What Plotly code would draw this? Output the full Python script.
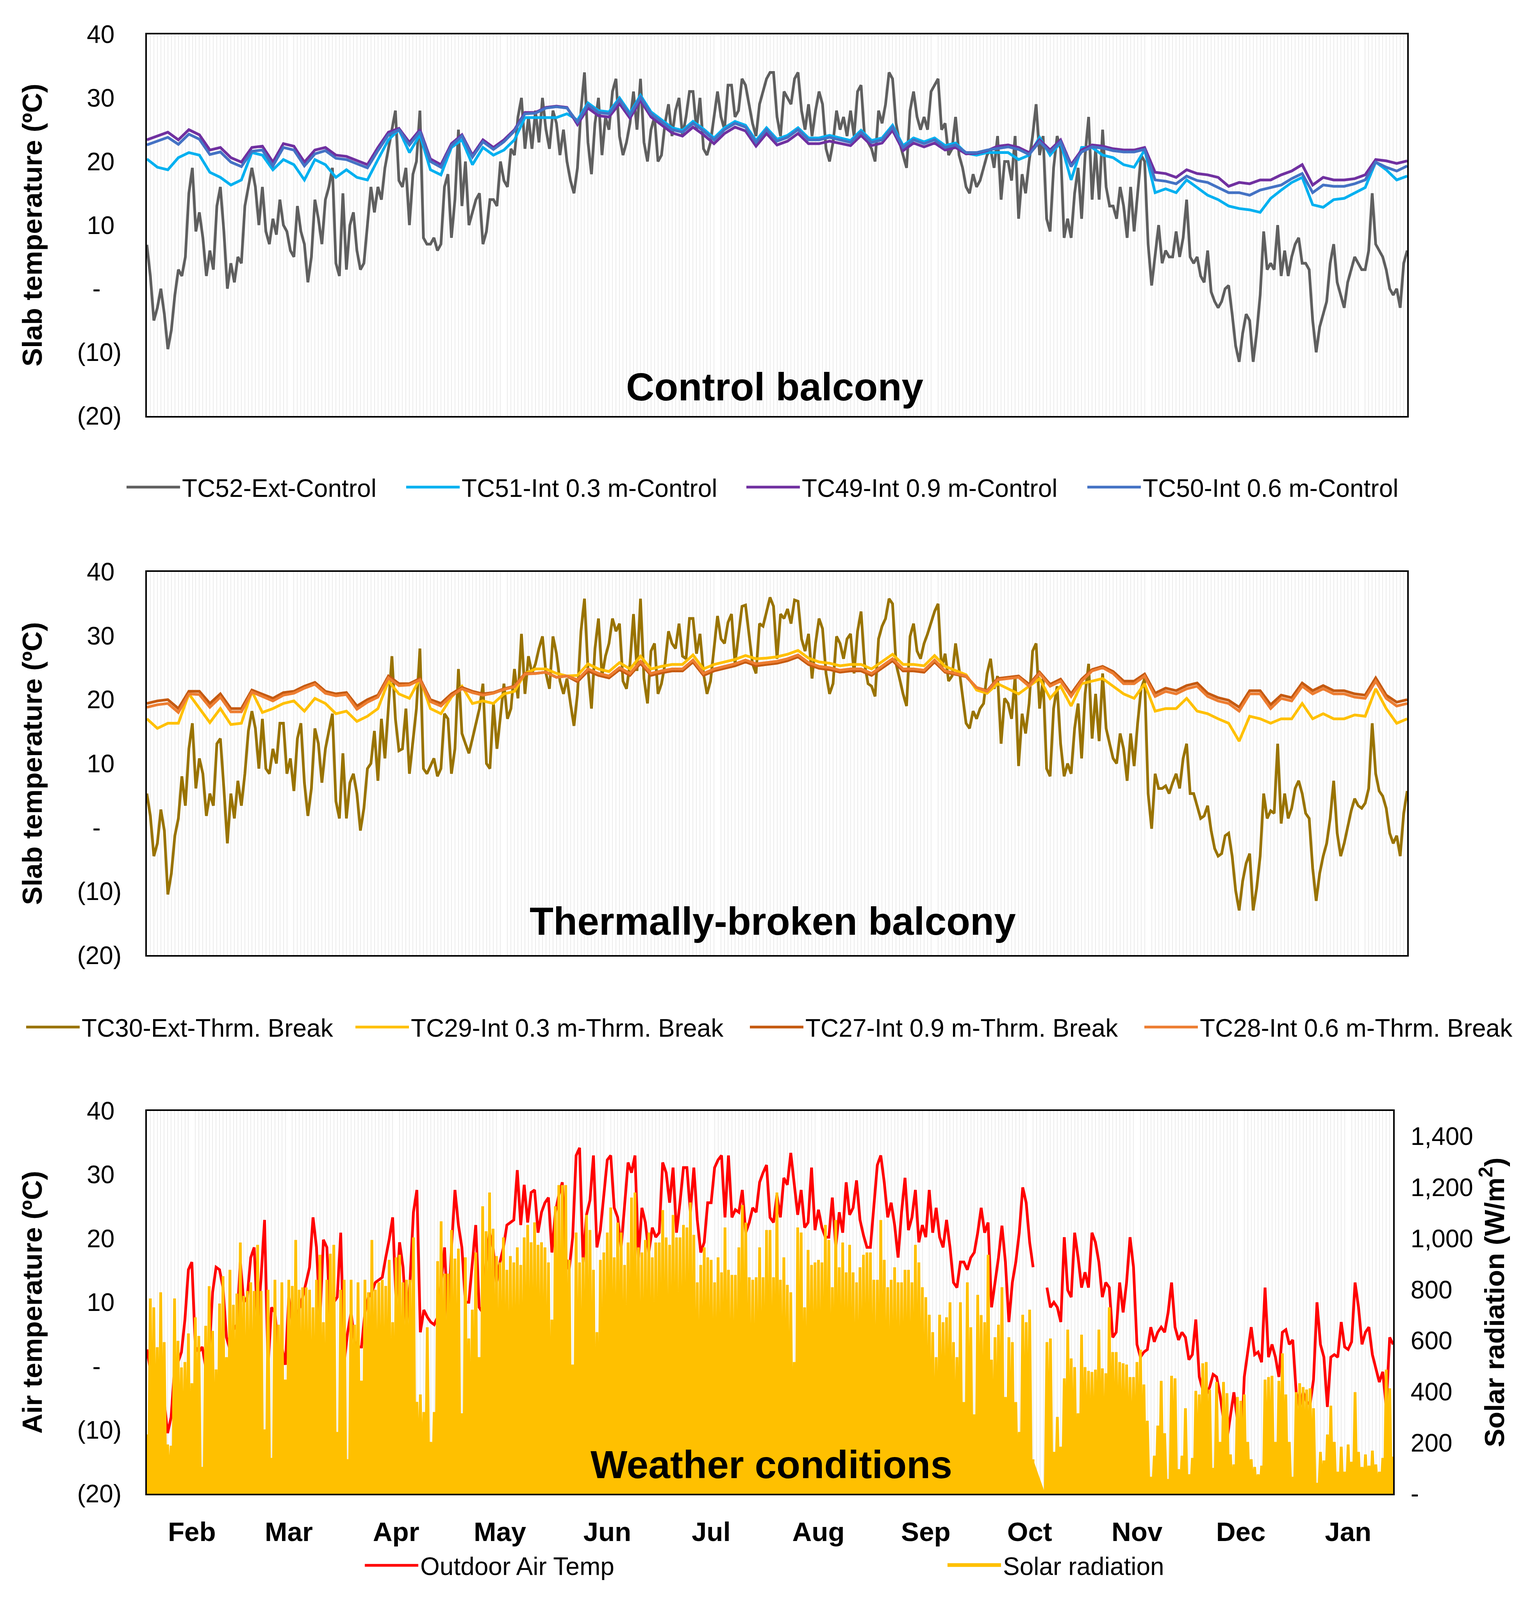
import pandas as pd
import plotly.graph_objects as go

# The page is shown in a 3943 x 4096 viewport (body margin 8 px), so the figure
# is sized to fill it; positions are measured on the 3943 x 4757 reference.
REF_W, REF_H = 3943, 4757
VIEW_H = 4096
W, H = 3935, 4088
SY = VIEW_H / REF_H
FONT = "Liberation Sans, Arial, sans-serif"

# ---------------- data ----------------
start_date = "2017-01-19"
end_date = "2018-01-14"
day_dates = pd.date_range(start_date, periods=361, freq="D")
grid3_dates = pd.date_range(start_date, periods=121, freq="3D")

tc52_ext_control = [
    6.9, 2, -5, -3, 0, -4, -9.5, -6.5, -1, 3,
    2, 5, 15, 19, 9, 12, 8, 2, 6, 3,
    13, 16, 9, 0, 4, 1, 5, 4, 13, 16,
    19, 16, 10, 16, 9, 7, 11, 8.5, 14, 10,
    9, 6, 5, 13, 9, 7, 1, 5, 14, 11,
    7, 14, 16, 19, 4, 2, 15, 3, 10, 12,
    6, 3, 4, 10, 16, 12, 16, 14, 19, 22,
    25, 28, 17, 16, 19, 10, 18, 20, 28, 8,
    7, 7, 8, 6, 7, 16, 18, 8, 14, 25,
    13, 20, 10, 12, 14, 15, 7, 9, 14, 14,
    13, 20, 17, 16, 22, 21, 27, 30, 22, 27,
    22, 28, 23, 30, 25, 22, 28, 26, 21, 25,
    20,
    17, 15, 19, 28, 34, 23, 18, 26, 30, 21,
    27, 25, 31, 33, 24, 21, 23, 26, 31, 25,
    33, 23, 20, 25, 27, 20, 21, 26, 29, 24,
    28, 30, 24, 27, 31, 31, 25, 30, 22, 21,
    23, 27, 31, 27, 25, 32, 32, 27, 28, 33,
    32, 29, 26, 24, 29, 31, 33, 34, 34, 27,
    24, 31, 30, 29, 33, 34, 28, 25, 29, 24,
    28, 31, 29, 22, 20, 23, 28, 25, 27, 24,
    28, 24, 31, 32, 24, 23, 22, 20, 28, 26,
    29, 34, 33, 26, 23, 21, 19, 28, 31, 27,
    25, 27, 25, 31, 32, 33, 25, 26, 21, 22,
    27, 21, 19, 16, 15, 18, 16, 17, 19, 21,
    22, 19, 24, 14, 20, 20, 17, 24, 11, 18,
    15, 20, 24, 29, 21, 24, 11, 9, 19, 24,
    22, 8, 11, 8, 15, 19, 11, 21, 27, 14,
    22, 14, 25, 16, 13, 13, 11, 16, 13, 8,
    16, 9, 15, 21, 20, 7, 0.5, 5, 10, 4,
    6, 5, 5, 9, 5, 8, 14, 5, 4, 5,
    2, 1, 6, -0.5, -2, -3, -2, 0, 0.5, -4,
    -9, -11.5, -7, -4, -5, -11.5, -7, -1, 9, 3,
    4, 3, 10, 2, 6, 2, 5, 7, 8, 4,
    4, 3, -5, -10, -6, -4, -2, 4, 7, 1,
    -1, -3, 1, 3, 5, 4, 3, 3, 6, 15,
    7, 6, 5, 3, 0, -1, 0, -3, 4, 6,
]

tc51_int03_control = [
    20.4, 19.1, 18.7, 20.6, 21.4, 21.0, 18.3, 17.5, 16.3, 17.1,
    21.4, 21.0, 18.7, 20.3, 19.5, 17.1, 20.3, 19.5, 17.5, 18.7,
    17.5, 17.1, 20.3, 23.4, 25.0, 21.4, 24.2, 18.7, 17.9, 22.2,
    23.4, 19.5, 22.2, 21.0, 21.8, 23.4, 26.9, 26.9, 26.9, 26.9,
    27.5,
    26.5, 29.2, 28.0, 27.8, 30.0, 27.6, 30.4, 27.8, 26.5, 25.3,
    24.9, 26.3, 25.1, 23.7, 25.3, 26.3, 25.7, 23.3, 25.3, 23.5,
    24.1, 25.3, 23.7, 23.7, 24.1, 23.7, 23.3, 24.9, 23.3, 23.7,
    25.7, 22.5, 23.7, 23.1, 23.7, 22.5, 22.9, 21.3, 21.0, 21.4,
    21.4, 21.4, 20.3, 21.0, 23.8, 21.0, 23.0, 17.1, 22.2, 22.2,
    21.0, 20.6, 19.5, 19.1, 21.8, 15.1, 15.7, 15.1, 17.1, 15.9,
    14.7, 14.0, 13.0, 12.6, 12.4, 12.0, 14.2, 15.5, 16.7, 17.5,
    13.2, 12.8, 14.0, 14.2, 15.1, 15.9, 19.9, 18.7, 17.1, 17.7,
]

tc49_int09_control = [
    23.4, 24.0, 24.6, 23.4, 25.0, 24.2, 21.8, 22.2, 20.6, 19.9,
    22.2, 22.4, 19.9, 22.8, 22.4, 19.9, 21.8, 22.2, 21.0, 20.8,
    20.1, 19.5, 22.2, 24.6, 25.2, 23.0, 25.0, 20.4, 19.5, 22.8,
    24.2, 21.0, 23.4, 22.2, 23.4, 25.0, 27.7, 27.7, 28.5, 28.7,
    28.5,
    25.8, 28.4, 27.2, 27.0, 29.1, 26.8, 29.6, 27.0, 25.7, 24.5,
    24.0, 25.4, 24.2, 22.8, 24.4, 25.4, 24.8, 22.4, 24.4, 22.6,
    23.2, 24.4, 22.8, 22.8, 23.2, 22.9, 22.5, 24.1, 22.5, 22.9,
    24.9, 21.7, 22.9, 22.3, 22.9, 21.8, 22.2, 21.2, 21.3, 21.7,
    22.4, 22.6, 22.2, 21.4, 23.4, 21.8, 23.4, 19.5, 21.8, 22.6,
    22.4, 22.0, 21.8, 21.8, 22.2, 18.3, 18.1, 17.5, 18.7, 18.1,
    17.9, 17.5, 16.1, 16.7, 16.5, 17.1, 17.1, 17.9, 18.5, 19.5,
    16.3, 17.5, 17.1, 17.1, 17.3, 17.9, 20.3, 20.1, 19.7, 20.1,
]

tc50_int06_control = [
    22.6, 23.2, 23.8, 22.7, 24.3, 23.5, 21.1, 21.5, 19.9, 19.2,
    21.6, 21.8, 19.3, 22.2, 21.8, 19.3, 21.2, 21.7, 20.5, 20.3,
    19.6, 19.0, 21.7, 24.2, 25.0, 22.6, 24.7, 20.0, 19.1, 22.5,
    24.0, 20.7, 23.1, 21.9, 23.1, 24.8, 27.5, 27.6, 28.4, 28.6,
    28.4,
    26.2, 28.9, 27.7, 27.5, 29.7, 27.3, 30.1, 27.5, 26.2, 25.0,
    24.6, 26.0, 24.8, 23.4, 25.0, 26.0, 25.4, 23.0, 25.0, 23.2,
    23.8, 25.0, 23.4, 23.4, 23.8, 23.4, 23.0, 24.6, 23.0, 23.4,
    25.4, 22.2, 23.4, 22.8, 23.4, 22.2, 22.6, 21.4, 21.4, 21.8,
    22.1, 22.3, 21.9, 21.1, 23.1, 21.5, 23.1, 19.2, 21.5, 22.3,
    22.1, 21.7, 21.5, 21.5, 21.9, 17.1, 16.9, 16.5, 17.7, 17.0,
    16.7, 15.9, 15.1, 15.1, 14.7, 15.5, 15.9, 16.3, 17.3, 18.1,
    15.1, 16.3, 16.1, 16.1, 16.5, 17.1, 19.9, 19.1, 18.5, 19.3,
]

tc30_ext_break = [
    5.3, 1.8, -4.5, -2.5, 2.8, -0.5, -10.5, -7.2, -1.3, 1.4,
    8.0, 3.4, 12.3, 16.3, 6.1, 10.8, 8.4, 1.8, 5.3, 3.4,
    13.1, 13.9, 6.1, -2.5, 5.3, 1.4, 7.3, 3.4, 8.4, 15.1,
    18.2, 15.5, 9.2, 17.0, 9.2, 8.4, 12.3, 10.0, 16.3, 16.3,
    8.4, 10.8, 5.7, 13.9, 16.3, 7.0, 1.8, 6.1, 15.5, 13.1,
    7.0, 12.3, 15.1, 17.8, 4.1, 1.4, 11.6, 1.4, 7.0, 8.4,
    5.3, -0.5, 3.0, 9.2, 10.0, 15.1, 7.3, 17.0, 10.8, 18.6,
    26.8, 17.0, 12.0, 12.3, 18.6, 8.4, 13.1, 18.6, 28.0, 9.2,
    8.4, 9.6, 10.8, 8.0, 9.2, 17.8, 17.0, 8.4, 12.3, 24.8,
    14.7, 13.1, 11.6, 13.9, 16.3, 18.6, 22.5, 10.0, 9.2, 19.4,
    12.3, 17.8, 22.5, 17.0, 18.6, 24.8, 20.2, 30.3, 20.9, 26.8,
    24.1, 25.6, 28.0, 29.9, 24.1, 21.7, 29.9, 27.2, 22.9, 20.9,
    23.3,
    19.4, 15.9, 20.9, 30.7, 35.8, 24.8, 18.6, 28.0, 32.7, 23.7,
    26.8, 28.8, 32.7, 30.7, 31.9, 22.9, 21.7, 25.6, 33.4, 24.5,
    35.8, 23.3, 19.4, 27.6, 28.8, 20.9, 22.5, 25.6, 30.7, 28.8,
    28.0, 31.9, 26.8, 26.4, 32.7, 32.7, 27.2, 30.3, 24.1, 20.9,
    22.9, 28.0, 33.1, 29.5, 28.8, 32.1, 33.4, 25.6, 30.3, 34.6,
    34.8, 30.3, 25.6, 24.1, 31.9, 31.5, 33.8, 36.0, 34.6, 26.4,
    33.4, 32.7, 34.2, 31.9, 35.6, 35.4, 29.5, 27.6, 30.3, 23.3,
    28.8, 32.7, 31.1, 24.1, 20.9, 22.5, 29.9, 28.8, 26.4, 29.5,
    30.3, 24.1, 30.7, 33.8, 25.6, 22.5, 22.1, 20.5, 29.5, 31.5,
    32.7, 35.8, 35.0, 25.6, 23.3, 20.9, 19.0, 29.9, 31.9, 27.6,
    26.4, 28.8, 30.3, 31.9, 33.8, 35.0, 24.8, 27.2, 22.9, 23.7,
    28.8, 24.8, 20.9, 16.3, 15.5, 18.2, 17.0, 18.6, 19.4, 24.1,
    26.4, 21.7, 23.7, 13.1, 20.2, 19.4, 17.0, 23.7, 9.6, 17.8,
    14.7, 19.4, 27.6, 28.8, 18.6, 23.3, 9.2, 8.0, 18.6, 22.1,
    13.1, 8.0, 10.0, 8.4, 15.5, 19.4, 10.8, 20.9, 25.6, 13.9,
    20.9, 13.5, 24.1, 15.5, 13.1, 10.8, 10.0, 14.7, 12.3, 7.3,
    14.7, 9.6, 16.3, 21.7, 23.3, 5.3, -0.2, 8.4, 6.1, 6.1,
    6.5, 5.3, 7.0, 8.4, 6.1, 10.8, 13.1, 5.3, 5.3, 3.4,
    1.4, 1.8, 3.4, -0.5, -3.3, -4.5, -4.1, -1.3, -0.9, -4.5,
    -9.9, -13.0, -8.4, -5.6, -4.1, -13.0, -9.5, -4.5, 5.3, 1.4,
    2.6, 2.2, 13.1, 0.6, 5.3, 1.4, 3.0, 6.1, 7.3, 5.3,
    2.2, 1.4, -6.4, -11.5, -7.2, -4.5, -2.5, 1.4, 7.3, -0.9,
    -4.5, -2.5, 0.2, 2.6, 4.5, 3.4, 3.0, 3.8, 6.1, 16.3,
    8.4, 5.7, 4.9, 3.0, -0.9, -2.5, -1.3, -4.5, 2.2, 5.7,
]

tc29_int03_break = [
    17.0, 15.5, 16.3, 16.3, 20.9, 18.6, 16.4, 18.6, 16.1, 16.3,
    21.3, 18.0, 18.6, 19.4, 19.8, 18.2, 20.2, 19.4, 17.8, 18.2,
    16.6, 17.4, 18.6, 22.9, 20.9, 20.2, 23.3, 18.6, 17.8, 20.4,
    22.1, 19.4, 19.8, 19.4, 20.9, 21.3, 24.1, 24.8, 24.8, 24.1,
    23.7,
    23.8, 25.6, 24.8, 24.4, 25.8, 24.8, 26.8, 24.8, 25.2, 25.5,
    25.5, 27.0, 24.8, 25.5, 25.9, 26.3, 26.9, 26.4, 26.5, 26.7,
    27.1, 27.7, 26.5, 25.9, 25.7, 25.3, 25.5, 25.5, 24.8, 25.9,
    27.1, 25.5, 25.5, 25.3, 26.9, 25.2, 24.6, 23.9, 21.5, 21.0,
    22.5, 21.7, 20.9, 22.1, 23.3, 20.2, 22.1, 19.0, 22.5, 22.9,
    23.3, 22.1, 20.9, 20.2, 22.5, 18.2, 18.6, 18.6, 20.2, 18.2,
    17.8, 17.0, 16.3, 13.5, 17.4, 17.0, 16.3, 17.0, 17.0, 19.4,
    17.0, 17.8, 17.0, 17.0, 17.6, 17.4, 21.7, 18.6, 16.3, 17.0,
]

tc27_int09_break = [
    19.4, 19.8, 20.0, 18.6, 21.3, 21.3, 19.4, 20.9, 18.6, 18.6,
    21.5, 20.9, 20.2, 21.1, 21.3, 22.1, 22.7, 21.3, 20.9, 21.1,
    19.0, 20.0, 20.7, 23.7, 22.5, 22.5, 23.3, 20.0, 19.4, 20.9,
    21.9, 21.3, 20.9, 21.1, 21.7, 22.1, 24.1, 24.1, 24.3, 23.5,
    23.7,
    22.8, 24.5, 23.8, 23.4, 24.7, 23.8, 25.7, 23.8, 24.2, 24.5,
    24.5, 25.9, 23.8, 24.5, 24.9, 25.3, 25.9, 25.3, 25.5, 25.7,
    26.1, 26.7, 25.5, 24.9, 24.7, 24.3, 24.5, 24.5, 23.8, 24.9,
    26.1, 24.5, 24.5, 24.3, 25.9, 24.3, 23.9, 23.6, 21.9, 21.4,
    23.3, 23.5, 23.7, 22.4, 24.3, 22.4, 23.2, 20.9, 23.2, 24.7,
    25.2, 24.4, 22.9, 22.9, 24.0, 21.0, 21.8, 21.4, 22.2, 22.6,
    21.0, 20.3, 19.9, 18.8, 21.4, 21.4, 19.2, 20.7, 20.3, 22.6,
    21.4, 22.2, 21.4, 21.4, 20.9, 20.7, 23.4, 20.7, 19.6, 20.0,
]

tc28_int06_break = [
    18.8, 19.2, 19.4, 18.0, 20.9, 20.8, 18.8, 20.4, 18.1, 18.1,
    21.2, 20.5, 19.8, 20.7, 21.0, 21.8, 22.4, 21.0, 20.6, 20.8,
    18.5, 19.6, 20.4, 23.4, 22.2, 22.3, 23.1, 19.7, 19.0, 20.6,
    21.7, 21.1, 20.7, 21.0, 21.6, 22.0, 24.0, 24.1, 24.3, 23.5,
    23.7,
    23.1, 24.8, 24.1, 23.7, 25.0, 24.1, 26.0, 24.1, 24.5, 24.8,
    24.8, 26.2, 24.1, 24.8, 25.2, 25.6, 26.2, 25.6, 25.8, 26.0,
    26.4, 27.0, 25.8, 25.2, 25.0, 24.6, 24.8, 24.8, 24.1, 25.2,
    26.4, 24.8, 24.8, 24.6, 26.2, 24.5, 24.1, 23.7, 21.9, 21.3,
    23.1, 23.3, 23.5, 22.1, 24.1, 22.1, 22.9, 20.5, 22.9, 24.5,
    25.0, 24.1, 22.5, 22.5, 23.7, 20.5, 21.3, 20.9, 21.7, 22.1,
    20.5, 19.8, 19.4, 18.2, 20.9, 20.9, 18.6, 20.2, 19.8, 22.1,
    20.9, 21.7, 20.9, 20.9, 20.4, 20.2, 22.9, 20.2, 19.0, 19.4,
]

outdoor_air_temp = [
    2.6, -0.5, -7.2, -5.6, -8.4, -5.6, -10.5, -8.0, -0.4, 0.6,
    2.2, 7.3, 15.1, 16.3, 3.0, 2.2, 3.0, -0.2, 2.2, 11.6,
    15.5, 15.1, 12.3, 4.5, 2.6, 5.7, 6.5, 16.3, 10.0, 10.8,
    17.0, 18.6, 6.5, 13.9, 22.9, -0.2, 9.2, 8.4, 2.2, 3.0,
    0.2, 10.8, 6.9, 7.7, 8.9, 10.8, 13.1, 15.5, 23.3, 18.6,
    7.3, 19.8, 18.6, 6.9, 10.0, 10.8, 20.9, 0.6, 5.3, 8.4,
    3.8, 3.0, 3.0, 8.4, 10.8, 11.6, 13.1, 13.5, 13.9, 17.0,
    19.8, 23.3, 10.0, 19.4, 15.5, 6.5, 13.1, 24.1, 27.6, 5.3,
    8.8, 7.7, 6.9, 6.5, 7.7, 13.1, 18.6, 6.5, 18.6, 27.6,
    22.1, 18.6, 10.0, 10.0, 16.3, 22.1, 9.2, 8.4, 16.3, 20.9,
    18.6, 13.1, 16.3, 18.6, 22.1, 22.5, 22.9, 30.7, 22.1, 28.4,
    22.5, 27.2, 27.6, 20.9, 24.1, 25.6, 26.4, 17.8, 24.1, 26.8,
    28.8,
    17.0, 15.1, 20.2, 33.0, 34.2, 16.3, 23.7, 26.0, 33.0, 18.6,
    21.3, 27.2, 32.3, 33.0, 24.8, 23.3, 18.6, 25.2, 31.9, 30.3,
    33.0, 17.0, 24.8, 22.5, 17.8, 21.7, 20.2, 20.9, 31.9, 30.3,
    25.6, 31.1, 20.9, 25.6, 31.1, 31.1, 24.1, 31.1, 22.9, 17.8,
    19.4, 25.6, 25.6, 31.1, 32.3, 33.0, 23.3, 33.0, 23.3, 24.5,
    24.1, 27.6, 20.9, 22.5, 24.8, 24.1, 28.8, 30.3, 31.5, 23.3,
    22.5, 26.8, 23.3, 29.5, 28.4, 33.4, 28.4, 23.7, 27.6, 21.7,
    22.5, 31.1, 21.3, 24.5, 21.7, 20.2, 20.2, 26.4, 18.6, 24.1,
    20.9, 28.8, 23.7, 24.8, 29.1, 22.9, 20.5, 18.6, 18.6, 24.8,
    31.5, 33.0, 28.8, 23.3, 25.6, 22.1, 17.0, 24.1, 29.5, 21.3,
    23.3, 27.6, 19.4, 22.1, 20.2, 27.6, 20.9, 24.8, 20.2, 18.6,
    22.9, 18.6, 13.1, 12.3, 16.3, 16.3, 15.1, 17.0, 17.8, 20.9,
    24.8, 20.9, 22.5, 9.2, 13.1, 17.0, 22.0, 16.3, 6.9, 13.1,
    16.3, 20.9, 28.0, 25.6, 19.4, 15.5, None, None, None, 12.3,
    9.2, 10.0, 9.2, 6.9, 20.2, 11.9, 10.8, 20.9, 17.0, 12.3,
    14.7, 12.3, 20.9, 19.4, 16.3, 10.8, 13.1, 12.3, 4.5, 5.3,
    13.1, 8.4, 13.1, 20.2, 15.5, 3.4, 1.4, 2.2, 2.6, 6.1,
    3.8, 5.3, 6.1, 5.3, 8.4, 13.1, 6.1, 4.1, 5.3, 4.5,
    1.0, 1.8, 7.3, -1.7, -3.7, -4.5, -3.3, -1.3, -1.7, -4.5,
    -8.4, -11.5, -7.6, -4.1, -8.4, -14.2, -1.7, 2.6, 6.1, 1.8,
    2.2, 0.6, 12.3, 1.4, 3.4, 1.4, -1.7, 5.3, 5.7, 3.4,
    4.1, -4.1, -6.4, -4.1, -5.6, -6.0, -2.1, 10.0, 3.4, 1.4,
    -6.4, 1.4, 1.8, 1.4, 6.9, 3.0, 2.6, 3.8, 13.1, 9.2,
    3.4, 5.3, 6.1, 1.8, -0.2, -2.5, -0.9, -6.4, 4.5, 3.4,
]

solar_daily_peak = [
    232, 765, 730, 574, 789, 594, 193, 188, 765, 599,
    495, 516, 628, 433, 691, 618, 105, 658, 813, 638,
    487, 745, 852, 535, 877, 740, 784, 984, 775, 794,
    828, 794, 975, 794, 252, 799, 140, 838, 662, 828,
    447, 838, 814, 994, 799, 808, 808, 799, 730, 838,
    936, 672, 838, 940, 975, 242, 799, 838, 135, 838,
    662, 828, 443, 838, 789, 994, 799, 828, 838, 814,
    916, 672, 926, 936, 828, 838, 838, 1004, 360, 389,
    320, 652, 203, 320, 911, 1067, 862, 862, 1033, 921,
    960, 315, 926, 608, 721, 945, 535, 1126, 1028, 1180,
    1038, 931, 906, 1004, 877, 931, 906, 965, 896, 1004,
    1053, 985, 1063, 975, 985, 965, 906, 682, 1126, 1209,
    1209,
    1209, 916, 506, 1023, 906, 926, 1092, 1033, 877, 633,
    916, 945, 1023, 1121, 926, 1062, 1023, 896, 984, 1160,
    1180, 965, 945, 994, 1023, 926, 984, 984, 1111, 1004,
    975, 1092, 1004, 1004, 1053, 1043, 1141, 1014, 828, 896,
    965, 926, 916, 828, 926, 867, 1043, 877, 857, 857,
    965, 1131, 1062, 848, 838, 848, 965, 848, 1033, 1033,
    848, 1180, 838, 926, 818, 789, 516, 1043, 1023, 730,
    955, 896, 906, 916, 906, 1053, 994, 809, 1072, 887,
    984, 867, 975, 867, 828, 887, 936, 945, 945, 838,
    838, 1072, 916, 809, 838, 887, 828, 828, 877, 877,
    828, 975, 906, 809, 770, 701, 633, 535, 701, 672,
    691, 750, 594, 535, 750, 359, 828, 652, 311, 779,
    700, 672, 936, 525, 613, 662, 809, 379, 613, 594,
    359, 242, 701, 672, 721, 135, None, None, None, 594,
    608, 164, 301, 184, 452, 643, 530, 496, 315, 623,
    496, 481, 477, 486, 643, 491, 472, 730, 555, 555,
    516, 511, 506, 457, 457, 516, 564, 428, 286, 66,
    149, 267, 442, 237, 57, 462, 452, 96, 149, 335,
    76, 140, 403, 389, 511, 516, 408, 101, 438, 203,
    438, 394, 154, 115, 379, 364, 389, 203, 135, 105,
    76, 110, 447, 457, 462, 203, 442, 550, 389, 203,
    66, 398, 433, 418, 408, 413, 335, 42, 164, 130,
    232, 345, 203, 86, 184, 86, 193, 125, 398, 164,
    105, 154, 110, 169, 115, 86, 140, 486, 413, 145,
]

for arr in (tc52_ext_control, tc30_ext_break, outdoor_air_temp, solar_daily_peak):
    assert len(arr) == 361, len(arr)
for arr in (tc51_int03_control, tc49_int09_control, tc50_int06_control,
            tc29_int03_break, tc27_int09_break, tc28_int06_break):
    assert len(arr) == 121, len(arr)

temp_ticks = [-20, -10, 0, 10, 20, 30, 40]
temp_ticktext = ["(20)", "(10)", "-\u00a0\u00a0\u00a0", "10\u00a0", "20\u00a0", "30\u00a0", "40\u00a0"]
solar_ticks = [0, 200, 400, 600, 800, 1000, 1200, 1400]
solar_ticktext = ["-", "200", "400", "600", "800", "1,000", "1,200", "1,400"]

# solar radiation: each day's curve rises from zero at night to its peak
half_day = pd.Timedelta(hours=12)
solar_x, solar_y = [], []
for d, v in zip(day_dates, solar_daily_peak):
    solar_x += [d - half_day, d]
    solar_y += [0 if v is not None else None, v]
solar_x.append(day_dates[-1] + half_day)
solar_y.append(0)

# ---------------- layout helpers (input: reference pixel coords) ----------------
def fx(rx):
    return (rx - 8) / W

def fy(ry):
    return 1 - (ry * SY - 8) / H

TOP = (61, 1216)
MID = (1688, 2848)
BOT = (3319, 4478)
XL, XR_TOP, XR_BOT = 376, 3603, 3567

LW = 7
fig = go.Figure()

def add_line(x, y, name, color, xa, ya, legend, lwidth):
    fig.add_trace(go.Scatter(
        x=x, y=y, name=name, mode="lines",
        line=dict(color=color, width=LW),
        xaxis=xa, yaxis=ya, legend=legend, legendwidth=lwidth,
        connectgaps=False,
    ))

# Control balcony
add_line(day_dates, tc52_ext_control, "TC52-Ext-Control", "#5f5f5f", "x", "y", "legend", 564)
add_line(grid3_dates, tc51_int03_control, "TC51-Int 0.3 m-Control", "#00b0f0", "x", "y", "legend", 719)
add_line(grid3_dates, tc49_int09_control, "TC49-Int 0.9 m-Control", "#7030a0", "x", "y", "legend", 721)
add_line(grid3_dates, tc50_int06_control, "TC50-Int 0.6 m-Control", "#4472c4", "x", "y", "legend", 700)

# Thermally-broken balcony
add_line(day_dates, tc30_ext_break, "TC30-Ext-Thrm. Break", "#997300", "x2", "y2", "legend2", 691)
add_line(grid3_dates, tc29_int03_break, "TC29-Int 0.3 m-Thrm. Break", "#ffc000", "x2", "y2", "legend2", 858)
add_line(grid3_dates, tc27_int09_break, "TC27-Int 0.9 m-Thrm. Break", "#c55a11", "x2", "y2", "legend2", 858)
add_line(grid3_dates, tc28_int06_break, "TC28-Int 0.6 m-Thrm. Break", "#ed7d31", "x2", "y2", "legend2", 820)

# Weather conditions
add_line(day_dates, outdoor_air_temp, "Outdoor Air Temp", "#ff0000", "x3", "y3", "legend3", 1340)
fig.add_trace(go.Scatter(
    x=solar_x, y=solar_y, name="Solar radiation", mode="lines",
    line=dict(color="#ffc000", width=7), fill="tozeroy", fillcolor="#ffc000",
    xaxis="x3", yaxis="y4", legend="legend3", legendwidth=500, connectgaps=False,
))

frame = dict(showline=True, linecolor="black", linewidth=4, mirror=True, zeroline=False)
minor_grid = dict(dtick=86400000, tick0=start_date, showgrid=True,
                  gridcolor="#ebebeb", gridwidth=2, ticks="")

def xaxis(right, ya, labels):
    d = dict(type="date", range=[start_date, end_date], domain=[fx(XL), fx(right)],
             anchor=ya, showgrid=False, ticks="", minor=minor_grid, **frame)
    if labels:
        d.update(tickmode="linear", tick0="2017-02-01", dtick="M1", tickformat="%b",
                 tickfont=dict(family=FONT, size=69, color="black", weight="bold"),
                 ticklabelstandoff=34, layer="below traces")
    else:
        d.update(showticklabels=False)
    return d

def yaxis(dom, xa, title):
    return dict(domain=[fy(dom[1]), fy(dom[0])], anchor=xa, range=[-20, 40],
                tickmode="array", tickvals=temp_ticks, ticktext=temp_ticktext,
                tickfont=dict(family=FONT, size=64, color="black"), ticks="",
                ticklabelstandoff=48, showgrid=False,
                title=dict(text=title, font=dict(family=FONT, size=71, color="black", weight="bold"),
                           standoff=68),
                **frame)

legend_font = dict(family=FONT, size=64, color="black")

def legend(rx, ry):
    return dict(x=fx(rx), y=fy(ry), xanchor="left", yanchor="middle", orientation="h",
                font=legend_font, itemwidth=137, bgcolor="rgba(0,0,0,0)", borderwidth=0,
                itemclick=False, itemdoubleclick=False)

fig.update_layout(
    width=W, height=H, margin=dict(l=0, r=0, t=0, b=0),
    paper_bgcolor="white", plot_bgcolor="white",
    font=dict(family=FONT, color="black"),
    xaxis=xaxis(XR_TOP, "y", False),
    xaxis2=xaxis(XR_TOP, "y2", False),
    xaxis3=xaxis(XR_BOT, "y3", True),
    yaxis=yaxis(TOP, "x", "Slab temperature (ºC)"),
    yaxis2=yaxis(MID, "x2", "Slab temperature (ºC)"),
    yaxis3=yaxis(BOT, "x3", "Air temperature (ºC)"),
    yaxis4=dict(overlaying="y3", side="right", anchor="x3", range=[0, 1500],
                tickmode="array", tickvals=solar_ticks, ticktext=solar_ticktext,
                tickfont=dict(family=FONT, size=64, color="black"), ticks="",
                ticklabelstandoff=28, showgrid=False,
                showline=True, linecolor="black", linewidth=4, zeroline=False,
                title=dict(text="Solar radiation (W/m<sup>2</sup>)",
                           font=dict(family=FONT, size=71, color="black", weight="bold"),
                           standoff=31)),
    legend=legend(319, 1432),
    legend2=legend(62, 3066),
    legend3=legend(929, 4695),
    showlegend=True,
)

def panel_title(text, rx, ry):
    fig.add_annotation(text=text, x=fx(rx), y=fy(ry), xref="paper", yref="paper",
                       xanchor="center", yanchor="middle", showarrow=False,
                       font=dict(family=FONT, size=100, color="black", weight="bold"))

panel_title("Control balcony", 1984, 1128)
panel_title("Thermally-broken balcony", 1978, 2745)
panel_title("Weather conditions", 1975, 4389)

fig.write_html("out.html")
